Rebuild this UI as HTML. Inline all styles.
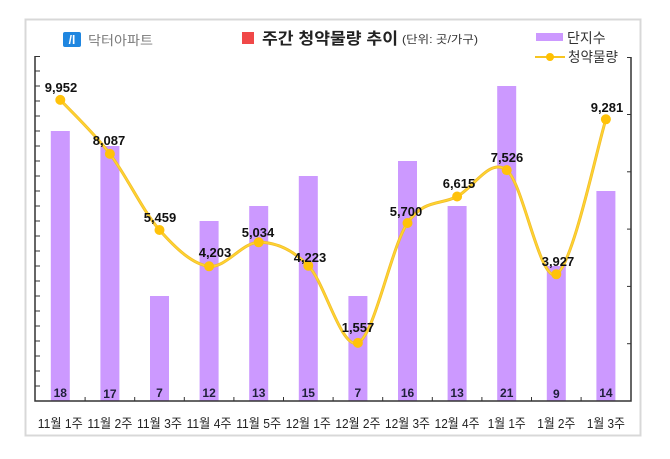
<!DOCTYPE html>
<html><head><meta charset="utf-8">
<style>
html,body{margin:0;padding:0;background:#fff;}
svg{display:block;}
text{font-family:"Liberation Sans","Noto Sans CJK KR",sans-serif;}
</style></head>
<body>
<svg width="670" height="459" viewBox="0 0 670 459" xmlns="http://www.w3.org/2000/svg">
<rect x="0" y="0" width="670" height="459" fill="#fff"/>
<rect x="25.5" y="19.5" width="615" height="416" fill="#fff" stroke="#d8d8d8" stroke-width="2"/>

<!-- logo -->
<rect x="63" y="32" width="18" height="15" rx="2" fill="#1f86e0"/>
<text x="72" y="44" font-size="12" font-weight="bold" fill="#fff" text-anchor="middle">/l</text>
<text x="88" y="45" font-size="13" fill="#7a7a7a" textLength="65" lengthAdjust="spacingAndGlyphs">닥터아파트</text>

<!-- title -->
<rect x="242" y="32" width="12" height="12" fill="#f04848"/>
<text x="262" y="44" font-size="16" font-weight="bold" fill="#222" textLength="136" lengthAdjust="spacingAndGlyphs">주간 청약물량 추이</text>
<text x="402" y="43" font-size="11" fill="#333" textLength="76" lengthAdjust="spacingAndGlyphs">(단위: 곳/가구)</text>

<!-- legend -->
<rect x="536" y="33" width="27" height="8" fill="#cc99ff"/>
<text x="567" y="43" font-size="14" fill="#333">단지수</text>
<line x1="535" y1="57" x2="565" y2="57" stroke="#f7c520" stroke-width="2"/>
<circle cx="550" cy="57" r="4" fill="#ffc000"/>
<text x="568" y="62" font-size="14" fill="#333" textLength="50" lengthAdjust="spacingAndGlyphs">청약물량</text>

<!-- bars -->
<g fill="#cc99ff">
<rect x="50.8" y="131" width="19" height="270"/>
<rect x="100.4" y="146" width="19" height="255"/>
<rect x="150" y="296" width="19" height="105"/>
<rect x="199.6" y="221" width="19" height="180"/>
<rect x="249.2" y="206" width="19" height="195"/>
<rect x="298.8" y="176" width="19" height="225"/>
<rect x="348.4" y="296" width="19" height="105"/>
<rect x="398" y="161" width="19" height="240"/>
<rect x="447.6" y="206" width="19" height="195"/>
<rect x="497.2" y="86" width="19" height="315"/>
<rect x="546.8" y="266" width="19" height="135"/>
<rect x="596.4" y="191" width="19" height="210"/>
</g>

<!-- bar labels -->
<g font-size="12" font-weight="bold" fill="#1f1f3a" text-anchor="middle">
<text x="60.3" y="397">18</text>
<text x="109.9" y="398">17</text>
<text x="159.5" y="397">7</text>
<text x="209.1" y="397">12</text>
<text x="258.7" y="397">13</text>
<text x="308.3" y="397">15</text>
<text x="357.9" y="397">7</text>
<text x="407.5" y="397">16</text>
<text x="457.1" y="397">13</text>
<text x="506.7" y="397">21</text>
<text x="556.3" y="398">9</text>
<text x="605.9" y="397">14</text>
</g>

<!-- axes -->
<g stroke="#333" stroke-width="1.5" fill="none">
<polyline points="35,56 35,401 631,401 631,57"/>
</g>
<g stroke="#333" stroke-width="1">
<line x1="35" y1="386" x2="40" y2="386"/><line x1="35" y1="371" x2="40" y2="371"/>
<line x1="35" y1="356" x2="40" y2="356"/><line x1="35" y1="341" x2="40" y2="341"/>
<line x1="35" y1="326" x2="40" y2="326"/><line x1="35" y1="311" x2="40" y2="311"/>
<line x1="35" y1="296" x2="40" y2="296"/><line x1="35" y1="281" x2="40" y2="281"/>
<line x1="35" y1="266" x2="40" y2="266"/><line x1="35" y1="251" x2="40" y2="251"/>
<line x1="35" y1="236" x2="40" y2="236"/><line x1="35" y1="221" x2="40" y2="221"/>
<line x1="35" y1="206" x2="40" y2="206"/><line x1="35" y1="191" x2="40" y2="191"/>
<line x1="35" y1="176" x2="40" y2="176"/><line x1="35" y1="161" x2="40" y2="161"/>
<line x1="35" y1="146" x2="40" y2="146"/><line x1="35" y1="131" x2="40" y2="131"/>
<line x1="35" y1="116" x2="40" y2="116"/><line x1="35" y1="101" x2="40" y2="101"/>
<line x1="35" y1="86" x2="40" y2="86"/><line x1="35" y1="71" x2="40" y2="71"/>
<line x1="35" y1="56.5" x2="40" y2="56.5"/>
<line x1="627" y1="343.7" x2="631" y2="343.7"/><line x1="627" y1="286.4" x2="631" y2="286.4"/>
<line x1="627" y1="229.1" x2="631" y2="229.1"/><line x1="627" y1="171.8" x2="631" y2="171.8"/>
<line x1="627" y1="114.5" x2="631" y2="114.5"/><line x1="627" y1="57.5" x2="631" y2="57.5"/>
<line x1="85.1" y1="397" x2="85.1" y2="401"/><line x1="134.7" y1="397" x2="134.7" y2="401"/>
<line x1="184.3" y1="397" x2="184.3" y2="401"/><line x1="233.9" y1="397" x2="233.9" y2="401"/>
<line x1="283.5" y1="397" x2="283.5" y2="401"/><line x1="333.1" y1="397" x2="333.1" y2="401"/>
<line x1="382.7" y1="397" x2="382.7" y2="401"/><line x1="432.3" y1="397" x2="432.3" y2="401"/>
<line x1="481.9" y1="397" x2="481.9" y2="401"/><line x1="531.5" y1="397" x2="531.5" y2="401"/>
<line x1="581.1" y1="397" x2="581.1" y2="401"/>
</g>

<!-- x labels -->
<g font-size="13" fill="#222" text-anchor="middle">
<text x="60.3" y="428" textLength="45" lengthAdjust="spacingAndGlyphs">11월 1주</text>
<text x="109.9" y="428" textLength="45" lengthAdjust="spacingAndGlyphs">11월 2주</text>
<text x="159.5" y="428" textLength="45" lengthAdjust="spacingAndGlyphs">11월 3주</text>
<text x="209.1" y="428" textLength="45" lengthAdjust="spacingAndGlyphs">11월 4주</text>
<text x="258.7" y="428" textLength="45" lengthAdjust="spacingAndGlyphs">11월 5주</text>
<text x="308.3" y="428" textLength="45" lengthAdjust="spacingAndGlyphs">12월 1주</text>
<text x="357.9" y="428" textLength="45" lengthAdjust="spacingAndGlyphs">12월 2주</text>
<text x="407.5" y="428" textLength="45" lengthAdjust="spacingAndGlyphs">12월 3주</text>
<text x="457.1" y="428" textLength="45" lengthAdjust="spacingAndGlyphs">12월 4주</text>
<text x="506.7" y="428" textLength="38" lengthAdjust="spacingAndGlyphs">1월 1주</text>
<text x="556.3" y="428" textLength="38" lengthAdjust="spacingAndGlyphs">1월 2주</text>
<text x="605.9" y="428" textLength="38" lengthAdjust="spacingAndGlyphs">1월 3주</text>
</g>

<!-- line -->
<path d="M60.3,99.9 C68.57,108.9 93.37,132.22 109.9,153.9 C126.43,175.58 142.97,211.27 159.5,230 C176.03,248.73 192.57,264.25 209.1,266.3 C225.63,268.35 242.17,242.4 258.7,242.3 C275.23,242.2 291.77,248.93 308.3,265.7 C324.83,282.47 341.37,350.02 357.9,342.9 C374.43,335.78 390.97,247.4 407.5,223 C424.03,198.6 440.57,205.32 457.1,196.5 C473.63,187.68 490.17,157.13 506.7,170.1 C523.23,183.07 539.77,282.77 556.3,274.3 C572.83,265.83 597.63,145.13 605.9,119.3" fill="none" stroke="#f0bc2c" stroke-width="3"/>
<path d="M60.3,99.9 C68.57,108.9 93.37,132.22 109.9,153.9 C126.43,175.58 142.97,211.27 159.5,230 C176.03,248.73 192.57,264.25 209.1,266.3 C225.63,268.35 242.17,242.4 258.7,242.3 C275.23,242.2 291.77,248.93 308.3,265.7 C324.83,282.47 341.37,350.02 357.9,342.9 C374.43,335.78 390.97,247.4 407.5,223 C424.03,198.6 440.57,205.32 457.1,196.5 C473.63,187.68 490.17,157.13 506.7,170.1 C523.23,183.07 539.77,282.77 556.3,274.3 C572.83,265.83 597.63,145.13 605.9,119.3" fill="none" stroke="#ffd430" stroke-width="1.5"/>
<g fill="#ffc20a">
<circle cx="60.3" cy="99.9" r="5"/>
<circle cx="109.9" cy="153.9" r="5"/>
<circle cx="159.5" cy="230" r="5"/>
<circle cx="209.1" cy="266.3" r="5"/>
<circle cx="258.7" cy="242.3" r="5"/>
<circle cx="308.3" cy="265.7" r="5"/>
<circle cx="357.9" cy="342.9" r="5"/>
<circle cx="407.5" cy="223" r="5"/>
<circle cx="457.1" cy="196.5" r="5"/>
<circle cx="506.7" cy="170.1" r="5"/>
<circle cx="556.3" cy="274.3" r="5"/>
<circle cx="605.9" cy="119.3" r="5"/>
</g>

<!-- line labels -->
<g font-size="13" font-weight="bold" fill="#111" text-anchor="middle">
<text x="61" y="92">9,952</text>
<text x="109" y="145">8,087</text>
<text x="160" y="222">5,459</text>
<text x="215" y="257">4,203</text>
<text x="258" y="237">5,034</text>
<text x="310" y="262">4,223</text>
<text x="358" y="332">1,557</text>
<text x="406" y="216">5,700</text>
<text x="459" y="188">6,615</text>
<text x="507" y="162">7,526</text>
<text x="558" y="266">3,927</text>
<text x="607" y="112">9,281</text>
</g>
</svg>
</body></html>
